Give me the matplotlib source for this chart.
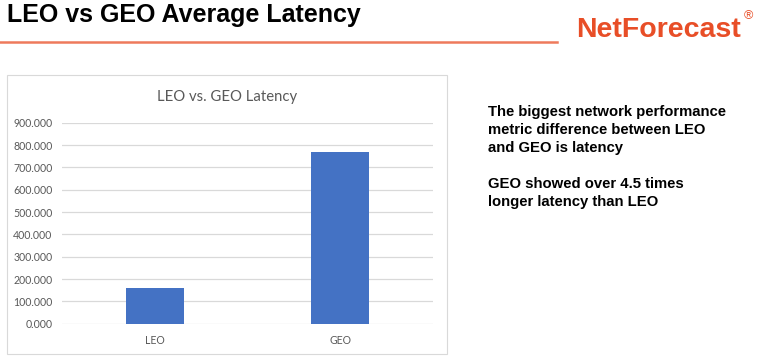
import matplotlib
matplotlib.use('Agg')
import matplotlib.pyplot as plt
from matplotlib.patches import Rectangle
from matplotlib.lines import Line2D

# chart data
categories = ['LEO', 'GEO']
latency = [161, 770]
y_ticks = [0, 100, 200, 300, 400, 500, 600, 700, 800, 900]

slide_title = 'LEO vs GEO Average Latency'
chart_title = 'LEO vs. GEO Latency'
notes = ['The biggest network performance',
         'metric difference between LEO',
         'and GEO is latency',
         '',
         'GEO showed over 4.5 times',
         'longer latency than LEO']

W, H = 758, 356
fig = plt.figure(figsize=(W / 100, H / 100), dpi=100)
fig.patch.set_facecolor('white')

def fx(px):
    return px / W

def fy(py):
    return 1 - py / H

# slide header
fig.text(fx(7), fy(22), slide_title, fontsize=18, fontweight='bold',
         family='Liberation Sans', color='black', va='baseline', ha='left')
fig.add_artist(Line2D([0, fx(557)], [fy(42.3), fy(42.3)], color='#EE7A5C', lw=1.8))
fig.text(fx(576), fy(37), 'NetForecast', fontsize=20.5, fontweight='bold',
         family='Liberation Sans', color='#E84E27', va='baseline', ha='left')
fig.text(fx(744), fy(19), '®', fontsize=9, family='Liberation Sans',
         color='#E84E27', va='baseline', ha='left')

# chart box (behind the axes)
box = Rectangle((fx(7), fy(354)), fx(440), 279 / H, transform=fig.transFigure,
                facecolor='white', edgecolor='#D9D9D9', lw=0.8, zorder=-1)
fig.add_artist(box)

ax = fig.add_axes([fx(62), fy(323.7), fx(371), (323.7 - 122.7) / H])
ax.set_zorder(2)
ax.bar(range(len(categories)), latency, width=0.31, color='#4472C4', zorder=3)
ax.set_xlim(-0.5, 1.5)
ax.set_ylim(0, 900)
ax.set_yticks(y_ticks)
ax.set_yticklabels([f'{v:.3f}' for v in y_ticks], fontsize=7.6, color='#595959', family='Lato')
ax.set_xticks(range(len(categories)))
ax.set_xticklabels(categories, fontsize=7.6, color='#595959', family='Lato')
ax.tick_params(length=0, axis='y', pad=7)
ax.tick_params(length=0, axis='x', pad=8)
ax.grid(axis='y', color='#D9D9D9', lw=0.9, zorder=0)
for s in ax.spines.values():
    s.set_visible(False)
ax.set_facecolor('none')

fig.text(fx(227), fy(97), chart_title, fontsize=10.7, family='Lato',
         color='#595959', ha='center', va='center', zorder=3)

# notes on the right
baseline = 116
for line in notes:
    if line:
        fig.text(fx(488), fy(baseline), line, fontsize=10.7, fontweight='bold',
                 family='Liberation Sans', color='black', va='baseline', ha='left')
    baseline += 18 if line else 17.5

fig.savefig('out.png', dpi=100)
